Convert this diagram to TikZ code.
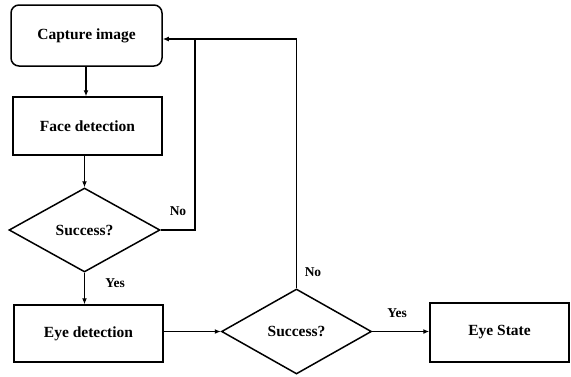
\documentclass[tikz,border=0pt]{standalone}
\usepackage{fontspec}
\setmainfont{Liberation Serif}
\usetikzlibrary{shapes.geometric,arrows.meta}
\begin{document}
\begin{tikzpicture}[x=1pt,y=-1pt,line width=1.5pt,
  every node/.style={font=\fontsize{15.5}{18}\selectfont\bfseries},
  boxst/.style={draw,rectangle,inner sep=0pt},
  dec/.style={draw,diamond,inner sep=0pt},
  lbl/.style={font=\fontsize{13.5}{16}\selectfont\bfseries},
  arr/.style={-{Latex[length=6pt,width=5pt]}}]
\useasboundingbox (0,0) rectangle (571,376);
\node[boxst,rounded corners=8pt,minimum width=151pt,minimum height=61pt] (cap) at (86.5,35.5) {Capture image};
\node[boxst,minimum width=149pt,minimum height=58pt] (face) at (87.5,126) {Face detection};
\node[dec,minimum width=151pt,minimum height=84pt] (d1) at (84.5,230) {Success?};
\node[boxst,minimum width=149pt,minimum height=57pt] (eye) at (88.5,333.5) {Eye detection};
\node[dec,minimum width=150pt,minimum height=85pt] (d2) at (296.5,331.5) {Success?};
\node[boxst,minimum width=139pt,minimum height=59pt] (st) at (499.5,332.5) {Eye State};
\coordinate (j1) at (195,39);
\coordinate (j2) at (296.5,39);
\draw[arr] (cap.south -| 86,0) -- (face.north -| 86,0);
\draw[arr] (face.south -| 84.5,0) -- (d1.north);
\draw[arr] (d1.south) -- (eye.north -| d1.south);
\draw[arr] (eye.east |- d2.west) -- (d2.west);
\draw[arr] (d2.east) -- (st.west |- d2.east);
\draw (d1.east) -| (j1);
\draw[arr] (j1) -- (cap.east |- j1);
\draw (j1) -- (j2) -- (d2.north);
\node[lbl] (no1) at (178,211) {No};
\node[lbl] (yes1) at (115,283) {Yes};
\node[lbl] (no2) at (313,272) {No};
\node[lbl] (yes2) at (397,313) {Yes};
\end{tikzpicture}
\end{document}
